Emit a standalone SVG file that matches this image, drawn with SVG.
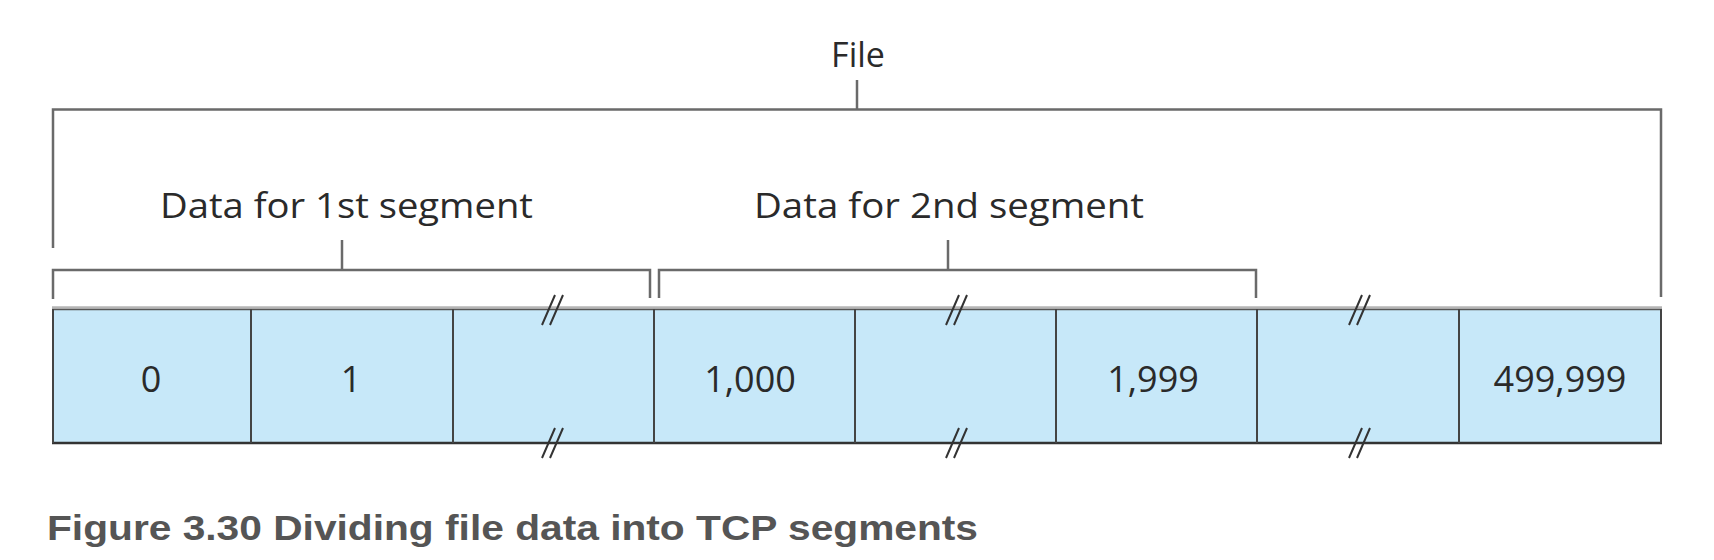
<svg xmlns="http://www.w3.org/2000/svg" width="1714" height="560" viewBox="0 0 1714 560">
<style>
.br{fill:none;stroke:#6a6a6a;stroke-width:2.5}
.lbl{font-family:"Open Sans","Noto Sans",sans-serif;font-size:34px;fill:#2a2a2a}
.num{font-family:"Open Sans","Noto Sans",sans-serif;font-size:36px;fill:#2a2a2a;text-anchor:middle}
.cell{fill:#c7e8f9;stroke:none}
.div{stroke:#444;stroke-width:2}
.brk{stroke:#333;stroke-width:2}
.cap{font-family:"Liberation Sans",Arial,sans-serif;font-weight:bold;font-size:35px;fill:#555}
</style>
<rect width="1714" height="560" fill="#fff"/>
<g id="file-label">
<text class="lbl" x="858" y="67" text-anchor="middle">File</text>
</g>
<g id="connectors">
<path class="br" d="M53,248 V109.5 H1661 V297"/>
<line class="br" x1="857" y1="80" x2="857" y2="109.5"/>
<path class="br" d="M53,299 V270 H650 V298"/>
<line class="br" x1="342" y1="240" x2="342" y2="270"/>
<path class="br" d="M659,298 V270 H1256 V298"/>
<line class="br" x1="948" y1="240" x2="948" y2="270"/>
</g>
<g id="seg1-label">
<text class="lbl" x="160" y="218" textLength="373" lengthAdjust="spacingAndGlyphs">Data for 1st segment</text>
</g>
<g id="seg2-label">
<text class="lbl" x="754" y="218" textLength="390" lengthAdjust="spacingAndGlyphs">Data for 2nd segment</text>
</g>
<g id="bar">
<rect class="cell" x="53" y="309" width="1608" height="134"/>
<line x1="52" y1="307.5" x2="1662" y2="307.5" stroke="#b5b5b5" stroke-width="2.5"/>
<line x1="52" y1="309.5" x2="1662" y2="309.5" stroke="#555" stroke-width="1.5"/>
<line x1="52" y1="443" x2="1662" y2="443" stroke="#333" stroke-width="2.5"/>
<line class="div" x1="53" y1="309" x2="53" y2="443"/>
<line class="div" x1="251" y1="309" x2="251" y2="443"/>
<line class="div" x1="453" y1="309" x2="453" y2="443"/>
<line class="div" x1="654" y1="309" x2="654" y2="443"/>
<line class="div" x1="855" y1="309" x2="855" y2="443"/>
<line class="div" x1="1056" y1="309" x2="1056" y2="443"/>
<line class="div" x1="1257" y1="309" x2="1257" y2="443"/>
<line class="div" x1="1459" y1="309" x2="1459" y2="443" stroke="#6c7a86" stroke-width="2.5"/>
<line class="div" x1="1661" y1="309" x2="1661" y2="443"/>
</g>
<g id="cell-0"><text class="num" x="151" y="392">0</text></g>
<g id="cell-1"><text class="num" x="351" y="392">1</text></g>
<g id="cell-1000"><text class="num" x="750" y="392">1,000</text></g>
<g id="cell-1999"><text class="num" x="1153" y="392">1,999</text></g>
<g id="cell-499999"><text class="num" x="1560" y="392">499,999</text></g>
<g id="breaks">
<path class="brk" d="M542,325 L555,295 M550,325 L563,295 M542,458 L555,428 M550,458 L563,428"/>
<path class="brk" d="M946,325 L959,295 M954,325 L967,295 M946,458 L959,428 M954,458 L967,428"/>
<path class="brk" d="M1349,325 L1362,295 M1357,325 L1370,295 M1349,458 L1362,428 M1357,458 L1370,428"/>
</g>
<g id="caption">
<text class="cap" x="47" y="540" textLength="931" lengthAdjust="spacingAndGlyphs">Figure 3.30 Dividing file data into TCP segments</text>
</g>
</svg>
